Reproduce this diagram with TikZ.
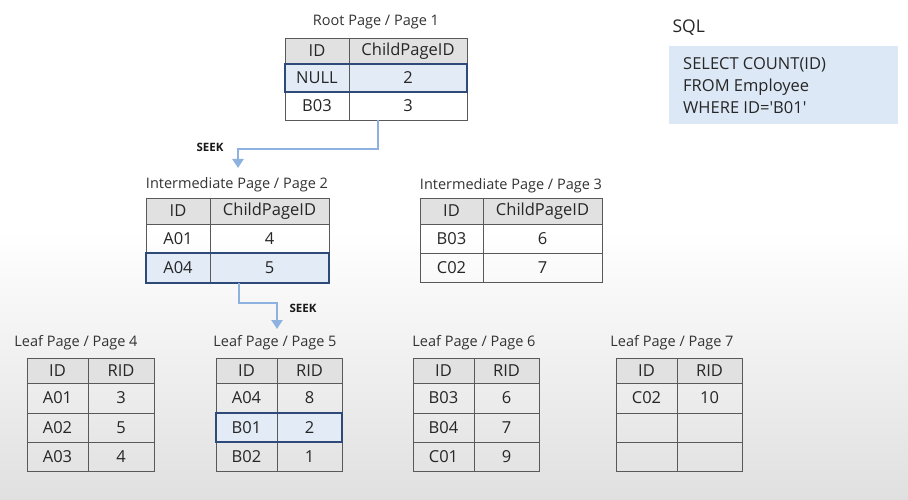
\documentclass[tikz,border=0pt]{standalone}
\usepackage{fontspec}
\setmainfont{Open Sans}
\usetikzlibrary{arrows.meta}

\definecolor{headGray}{HTML}{E1E1E1}
\definecolor{hiFill}{HTML}{E3EBF7}
\definecolor{hiEdge}{HTML}{2E4A78}
\definecolor{seekBlue}{HTML}{8DB2E0}
\definecolor{sqlFill}{HTML}{DCE8F6}
\definecolor{bgGray}{HTML}{E0E0E0}

\begin{document}
\begin{tikzpicture}[x=1pt, y=-1pt,
    cell/.style={draw=black!65, line width=0.9pt, inner sep=0pt, outer sep=0pt,
        anchor=north west, text=black!85, font=\fontsize{16.5}{17}\selectfont},
    head/.style={cell, fill=headGray},
    ttl/.style={font=\fontsize{14.5}{15}\selectfont, text=black!80},
    hirow/.style={draw=hiEdge, line width=1.3pt},
    seek/.style={font=\bfseries\fontsize{11.5}{12}\selectfont, text=black!90},
    seekarr/.style={draw=seekBlue, line width=2.6pt,
        -{Triangle[width=11pt, length=9pt]}},
]

% Background
\useasboundingbox (0,0) rectangle (908,500);
\fill[white] (0,0) rectangle (908,500);
\shade[top color=white, bottom color=bgGray] (0,230) rectangle (908,500);

% SQL query
\node[anchor=west, font=\fontsize{17.5}{18}\selectfont, text=black!85]
    (sqlttl) at (669,28) {SQL};
\node[anchor=north west, fill=sqlFill, minimum width=229pt, minimum height=78pt,
    inner sep=0pt] (sqlbox) at (669,46) {};
\node[anchor=north west, align=left, text=black!85, inner sep=0pt,
    font=\fontsize{16.5}{22}\selectfont] (sqltxt) at (683,57)
    {SELECT COUNT(ID)\\FROM Employee\\WHERE ID=\textquotesingle B01\textquotesingle};

% Root Page / Page 1
\node[ttl] (p1ttl) at (376,22) {Root Page / Page 1};
\node[head, minimum width=64pt, minimum height=26pt] (p1ha) at (285,38) {ID};
\node[head, minimum width=118pt, minimum height=26pt] (p1hb) at (349,38) {ChildPageID};
\fill[hiFill] (285,64) rectangle (467,92);
\node[cell, minimum width=64pt, minimum height=28pt] (p1r1a) at (285,64) {NULL};
\node[cell, minimum width=118pt, minimum height=28pt] (p1r1b) at (349,64) {2};
\node[cell, minimum width=64pt, minimum height=28pt] (p1r2a) at (285,92) {B03};
\node[cell, minimum width=118pt, minimum height=28pt] (p1r2b) at (349,92) {3};
\draw[hirow] (p1r1a.north west) rectangle (p1r1b.south east);

% Intermediate Page / Page 2
\node[ttl] (p2ttl) at (237,185) {Intermediate Page / Page 2};
\node[head, minimum width=64pt, minimum height=26pt] (p2ha) at (146,198) {ID};
\node[head, minimum width=119pt, minimum height=26pt] (p2hb) at (210,198) {ChildPageID};
\fill[hiFill] (146,253) rectangle (329,283);
\node[cell, minimum width=64pt, minimum height=29pt] (p2r1a) at (146,224) {A01};
\node[cell, minimum width=119pt, minimum height=29pt] (p2r1b) at (210,224) {4};
\node[cell, minimum width=64pt, minimum height=30pt] (p2r2a) at (146,253) {A04};
\node[cell, minimum width=119pt, minimum height=30pt] (p2r2b) at (210,253) {5};
\draw[hirow] (p2r2a.north west) rectangle (p2r2b.south east);

% Intermediate Page / Page 3
\node[ttl] (p3ttl) at (511,186) {Intermediate Page / Page 3};
\node[head, minimum width=63pt, minimum height=26pt] (p3ha) at (420,198) {ID};
\node[head, minimum width=119pt, minimum height=26pt] (p3hb) at (483,198) {ChildPageID};
\node[cell, minimum width=63pt, minimum height=29pt] (p3r1a) at (420,224) {B03};
\node[cell, minimum width=119pt, minimum height=29pt] (p3r1b) at (483,224) {6};
\node[cell, minimum width=63pt, minimum height=29pt] (p3r2a) at (420,253) {C02};
\node[cell, minimum width=119pt, minimum height=29pt] (p3r2b) at (483,253) {7};

% Leaf pages
\foreach \pg/\xa/\xb/\xc/\tx in {4/27/88/154/76, 5/216/277/342/275,
                                 6/413/474/539/474, 7/616/677/742/672} {
  \node[ttl] (p\pg ttl) at (\tx,343) {Leaf Page / Page \pg};
  \node[head, minimum width=\xb pt-\xa pt, minimum height=25pt] (p\pg ha) at (\xa,358) {ID};
  \node[head, minimum width=\xc pt-\xb pt, minimum height=25pt] (p\pg hb) at (\xb,358) {RID};
}
\fill[hiFill] (216,413) rectangle (342,442);
\foreach \pg/\xa/\xb/\xc/\ia/\ra/\ib/\rb/\ic/\rc in {
    4/27/88/154/A01/3/A02/5/A03/4,
    5/216/277/342/A04/8/B01/2/B02/1,
    6/413/474/539/B03/6/B04/7/C01/9,
    7/616/677/742/C02/10/{}/{}/{}/{}} {
  \node[cell, minimum width=\xb pt-\xa pt, minimum height=30pt] (p\pg r1a) at (\xa,383) {\ia};
  \node[cell, minimum width=\xc pt-\xb pt, minimum height=30pt] (p\pg r1b) at (\xb,383) {\ra};
  \node[cell, minimum width=\xb pt-\xa pt, minimum height=29pt] (p\pg r2a) at (\xa,413) {\ib};
  \node[cell, minimum width=\xc pt-\xb pt, minimum height=29pt] (p\pg r2b) at (\xb,413) {\rb};
  \node[cell, minimum width=\xb pt-\xa pt, minimum height=29pt] (p\pg r3a) at (\xa,442) {\ic};
  \node[cell, minimum width=\xc pt-\xb pt, minimum height=29pt] (p\pg r3b) at (\xb,442) {\rc};
}
\draw[hirow] (p5r2a.north west) rectangle (p5r2b.south east);

% Seek path
\coordinate (seek1s) at (378,120);
\coordinate (seek1e) at (238,168);
\coordinate (seek2s) at (239,283);
\coordinate (seek2e) at (277,329);
\draw[seekarr] (seek1s) -- ++(0,29) -| (seek1e);
\draw[seekarr] (seek2s) -- ++(0,20) -| (seek2e);
\node[seek] (seek1) at (210,147) {SEEK};
\node[seek] (seek2) at (303,308) {SEEK};

\end{tikzpicture}
\end{document}
